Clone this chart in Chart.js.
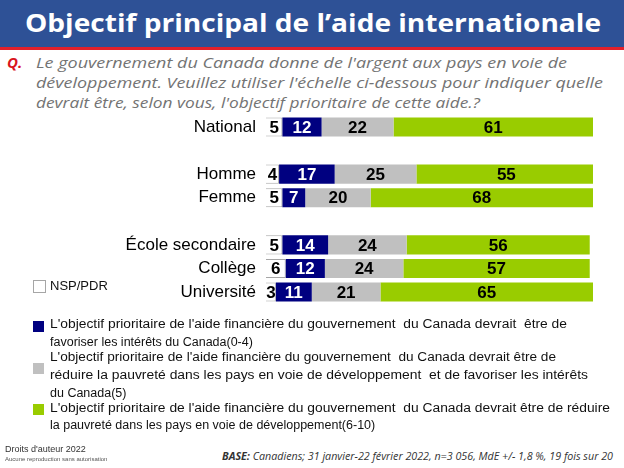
<!DOCTYPE html>
<html>
<head>
<meta charset="utf-8">
<script src="https://cdn.jsdelivr.net/npm/chart.js@4"></script>
<style>
  body { margin: 0; width: 624px; height: 468px; background: #fff; position: relative; overflow: hidden; font-family: "Liberation Sans", Arial, sans-serif; }
  .abs { position: absolute; white-space: nowrap; }
  #band { left: 0; top: 0; width: 624px; height: 47px; background: #2e5196; }
  #redline { left: 0; top: 47px; width: 624px; height: 3px; background: #e3202b; }
  #title { left: 25px; top: 7px; color: #fff; font: bold 25px "Open Sans", sans-serif; line-height: 30px; }
  #q { left: 7px; top: 52px; color: #d9141e; font: bold italic 15px "Open Sans", sans-serif; }
  .ql { left: 36px; color: #737373; font: italic 15px "Open Sans", sans-serif; line-height: 20px; }
  #chart { position: absolute; left: 0; top: 103px; }
  .sq { width: 11px; height: 11px; }
  .lt { left: 50px; font-size: 12.5px; color: #111; line-height: 17.5px; }
  .fit { transform-origin: 0 50%; }
</style>
</head>
<body>
<div class="abs" id="band"></div>
<div class="abs" id="redline"></div>
<div class="abs fit" id="title" data-w="576">Objectif principal de l’aide internationale</div>
<div class="abs" id="q">Q.</div>
<div class="abs ql fit" style="top:52px" data-w="531">Le gouvernement du Canada donne de l'argent aux pays en voie de</div>
<div class="abs ql fit" style="top:72px" data-w="567">développement. Veuillez utiliser l'échelle ci-dessous pour indiquer quelle</div>
<div class="abs ql fit" style="top:92px" data-w="444">devrait être, selon vous, l'objectif prioritaire de cette aide.?</div>

<canvas id="chart" width="624" height="213"></canvas>

<div class="abs sq" style="left:33px; top:280px; width:11px; height:11px; border:1px solid #a6a6a6; background:#fff"></div>
<div class="abs lt" style="top:277px; font-size:13px">NSP/PDR</div>

<div class="abs sq" style="left:33px; top:321px; background:#000080"></div>
<div class="abs lt fit" style="top:316px" data-w="517">L'objectif prioritaire de l'aide financière du gouvernement&nbsp; du Canada devrait&nbsp; être de</div>
<div class="abs lt" style="top:334px">favoriser les intérêts du Canada(0-4)</div>

<div class="abs sq" style="left:33px; top:363px; background:#c0c0c0"></div>
<div class="abs lt fit" style="top:349px" data-w="506">L'objectif prioritaire de l'aide financière du gouvernement&nbsp; du Canada devrait être de</div>
<div class="abs lt fit" style="top:367px" data-w="538">réduire la pauvreté dans les pays en voie de développement&nbsp; et de favoriser les intérêts</div>
<div class="abs lt" style="top:385px">du Canada(5)</div>

<div class="abs sq" style="left:33px; top:404px; background:#99cc00"></div>
<div class="abs lt fit" style="top:400px" data-w="560">L'objectif prioritaire de l'aide financière du gouvernement&nbsp; du Canada devrait être de réduire</div>
<div class="abs lt" style="top:417px">la pauvreté dans les pays en voie de développement(6-10)</div>

<div class="abs" style="left:5px; top:444px; font-size:9px; color:#333">Droits d'auteur 2022</div>
<div class="abs" style="left:5px; top:456px; font-size:6px; color:#555">Aucune reproduction sans autorisation</div>
<div class="abs fit" style="left:222px; top:448px; font: italic 11px 'Open Sans', sans-serif; color:#333" data-w="391"><b>BASE:</b> Canadiens; 31 janvier-22 février 2022, n=3 056, MdE +/- 1,8 %, 19 fois sur 20</div>

<script>
// categories (empty strings are the gaps between groups)
let categories = ['National', '', 'Homme', 'Femme', '', 'École secondaire', 'Collège', 'Université'];
let nspPdr   = [5, null, 4, 5, null, 5, 6, 3];
let interets = [12, null, 17, 7, null, 14, 12, 11];
let lesDeux  = [22, null, 25, 20, null, 24, 24, 21];
let pauvrete = [61, null, 55, 68, null, 56, 57, 65];

// stretch text to the width it has in the picture
document.querySelectorAll('.fit').forEach(function(el) {
  let w = el.getBoundingClientRect().width;
  let target = parseFloat(el.dataset.w);
  if (w > 0 && target) el.style.transform = 'scaleX(' + (target / w) + ')';
});

// draw the value in the middle of each segment
const segLabels = {
  id: 'segLabels',
  afterDatasetsDraw(chart) {
    let ctx = chart.ctx;
    ctx.save();
    ctx.font = 'bold 17px "Liberation Sans", Arial, sans-serif';
    ctx.textAlign = 'center';
    ctx.textBaseline = 'middle';
    chart.data.datasets.forEach(function(ds, di) {
      chart.getDatasetMeta(di).data.forEach(function(bar, i) {
        let v = ds.data[i];
        if (v == null) return;
        let p = bar.getProps(['x', 'y', 'base'], true);
        ctx.fillStyle = di == 1 ? '#fff' : '#000';
        ctx.fillText(v, (p.x + p.base) / 2, p.y + 1);
      });
    });
    ctx.restore();
  }
};

let ctx = document.getElementById('chart').getContext('2d');
let myChart = new Chart(ctx, {
  type: 'bar',
  data: {
    labels: categories,
    datasets: [
      { label: 'NSP/PDR', data: nspPdr, backgroundColor: '#ffffff', borderColor: '#a6a6a6', borderWidth: 1 },
      { label: '0-4', data: interets, backgroundColor: '#000080', borderWidth: 0 },
      { label: '5', data: lesDeux, backgroundColor: '#c0c0c0', borderWidth: 0 },
      { label: '6-10', data: pauvrete, backgroundColor: '#99cc00', borderWidth: 0 }
    ]
  },
  options: {
    indexAxis: 'y',
    responsive: false,
    animation: false,
    categoryPercentage: 1,
    barPercentage: 0.81,
    layout: { padding: { top: 5, bottom: 3, right: 31, left: 0 } },
    scales: {
      x: { stacked: true, min: 0, max: 100, display: false },
      y: {
        stacked: true,
        grid: { display: false },
        border: { display: false },
        ticks: { color: '#000', padding: 2, font: { size: 17, family: '"Liberation Sans", Arial, sans-serif' } },
        afterFit: function(scale) { scale.width = 266; }
      }
    },
    plugins: {
      legend: { display: false },
      tooltip: { enabled: false }
    }
  },
  plugins: [segLabels]
});
</script>
</body>
</html>
